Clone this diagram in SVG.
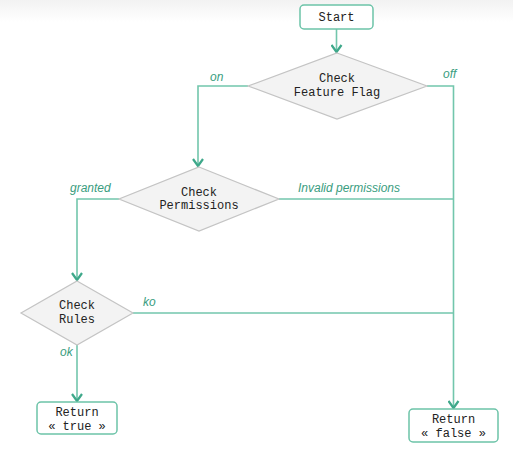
<svg xmlns="http://www.w3.org/2000/svg" width="513" height="452" viewBox="0 0 513 452">
<defs>
<linearGradient id="topfade" x1="0" y1="0" x2="0" y2="1">
<stop offset="0" stop-color="#f2f2f2"/>
<stop offset="1" stop-color="#ffffff"/>
</linearGradient>
<marker id="arr" markerWidth="10" markerHeight="12" refX="8" refY="6" orient="auto" markerUnits="userSpaceOnUse" viewBox="0 0 10 12">
<path d="M1,1 L8,6 L1,11" fill="none" stroke="#3ea88a" stroke-width="2.2"/>
</marker>
<style>
.box{fill:#ffffff;stroke:#6cc3a8;stroke-width:1.5}
.dia{fill:#f3f3f3;stroke:#c4c4c4;stroke-width:1.2}
.t{font-family:"Liberation Mono","Courier New",monospace;font-size:12px;fill:#222;text-anchor:middle}
.lbl{font-family:"Liberation Sans",Arial,sans-serif;font-size:12px;font-style:italic;fill:#3a9d80}
.ln{fill:none;stroke:#72c6ac;stroke-width:1.6}
.la{fill:none;stroke:#72c6ac;stroke-width:1.6;marker-end:url(#arr)}
</style>
</defs>
<rect x="0" y="0" width="513" height="452" fill="#ffffff"/>
<rect x="0" y="0" width="513" height="22" fill="url(#topfade)"/>

<g id="connectors">
<path class="la" d="M336.5,29 V52"/>
<path class="la" d="M248,86 H198 V166"/>
<path class="la" d="M427,86 H453.5 V408"/>
<path class="la" d="M119,199 H77 V280"/>
<path class="ln" d="M279,199 H453.5"/>
<path class="ln" d="M133,313 H453.5"/>
<path class="la" d="M77,345 V401"/>
<text class="lbl" x="210" y="81">on</text>
<text class="lbl" x="443" y="78">off</text>
<text class="lbl" x="70" y="192">granted</text>
<text class="lbl" x="298" y="192">Invalid permissions</text>
<text class="lbl" x="143" y="306">ko</text>
<text class="lbl" x="60" y="356">ok</text>
</g>

<g id="start">
<rect class="box" x="300" y="5" width="73" height="24" rx="4"/>
<text class="t" x="336.5" y="21">Start</text>
</g>

<g id="checkFeatureFlag">
<polygon class="dia" points="337,53 427,86 337,119 248,86"/>
<text class="t" x="337" y="82">Check</text>
<text class="t" x="337" y="96">Feature Flag</text>
</g>

<g id="checkPermissions">
<polygon class="dia" points="199,167 279,199 199,231 119,199"/>
<text class="t" x="199" y="196">Check</text>
<text class="t" x="199" y="209">Permissions</text>
</g>

<g id="checkRules">
<polygon class="dia" points="77,281 133,313 77,345 21,313"/>
<text class="t" x="77" y="309">Check</text>
<text class="t" x="77" y="323">Rules</text>
</g>

<g id="returnTrue">
<rect class="box" x="37" y="402" width="80" height="32" rx="4"/>
<text class="t" x="77" y="416">Return</text>
<text class="t" x="77" y="430">« true »</text>
</g>

<g id="returnFalse">
<rect class="box" x="409" y="409" width="89" height="33" rx="4"/>
<text class="t" x="453.5" y="423">Return</text>
<text class="t" x="453.5" y="437">« false »</text>
</g>
</svg>
